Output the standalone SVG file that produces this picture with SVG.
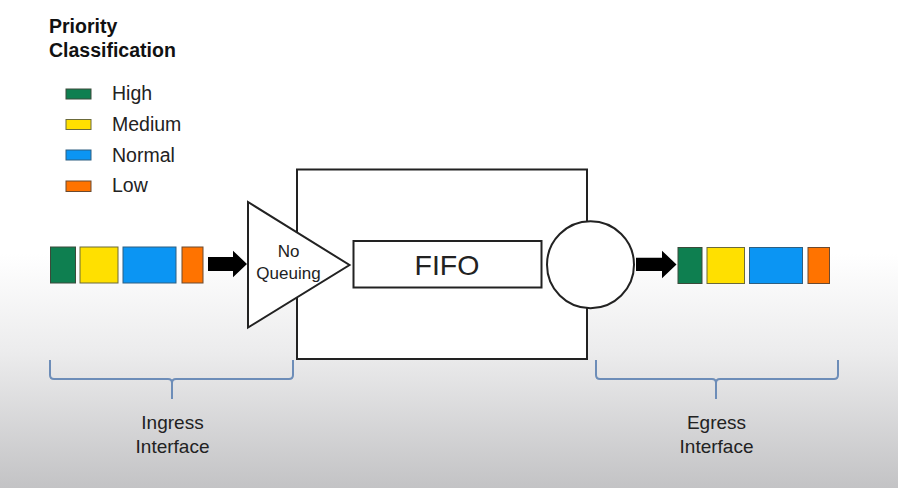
<svg xmlns="http://www.w3.org/2000/svg" width="898" height="488" viewBox="0 0 898 488">
<defs>
<linearGradient id="bg" x1="0" y1="0" x2="0" y2="1">
<stop offset="0" stop-color="#ffffff"/>
<stop offset="0.52" stop-color="#ffffff"/>
<stop offset="0.72" stop-color="#ececed"/>
<stop offset="1" stop-color="#c3c3c5"/>
</linearGradient>
</defs>
<style>
.t{font-family:"Liberation Sans",Arial,sans-serif;fill:#222}
.title{font-size:19.5px;font-weight:bold;fill:#111}
.leg{font-size:19.5px}
.lbl{font-size:19px;text-anchor:middle}
.hi{fill:#0e7f50;stroke:#3b4a3a;stroke-width:1}
.me{fill:#ffe000;stroke:#6b6a3a;stroke-width:1}
.no{fill:#0b95f3;stroke:#2f5f80;stroke-width:1}
.lo{fill:#ff7300;stroke:#6b4a30;stroke-width:1}
.box{fill:#fff;stroke:#222;stroke-width:2}
.brace{fill:none;stroke:#6d8db8;stroke-width:2;stroke-linejoin:round}
.arr{fill:#000}
</style>
<rect width="898" height="488" fill="url(#bg)"/>
<g id="legend">
<text class="t title" x="49" y="33">Priority</text>
<text class="t title" x="49" y="57">Classification</text>
<rect class="hi" x="66" y="89" width="25" height="10"/>
<rect class="me" x="66" y="119.5" width="25" height="10"/>
<rect class="no" x="66" y="150" width="25" height="10"/>
<rect class="lo" x="66" y="181" width="25" height="10.5"/>
<text class="t leg" x="112" y="100">High</text>
<text class="t leg" x="112" y="131">Medium</text>
<text class="t leg" x="112" y="161.5">Normal</text>
<text class="t leg" x="112" y="192">Low</text>
</g>
<g id="ingress-packets">
<rect class="hi" x="50.5" y="247" width="25" height="36"/>
<rect class="me" x="80" y="247" width="38" height="36"/>
<rect class="no" x="123" y="247" width="53" height="36"/>
<rect class="lo" x="182" y="247" width="21" height="36"/>
</g>
<g id="switch">
<rect class="box" x="297" y="169.5" width="290" height="189.5"/>
</g>
<g id="no-queuing">
<polygon class="box" points="248,202 248,327.5 349.5,265" stroke-width="1.5"/>
<text class="t" x="288.5" y="256.5" font-size="17" text-anchor="middle">No</text>
<text class="t" x="288.5" y="278.5" font-size="17" text-anchor="middle">Queuing</text>
</g>
<g id="fifo">
<rect class="box" x="353.5" y="241" width="188" height="46.5" stroke-width="1.5"/>
<text class="t" x="447" y="275" font-size="28.5" text-anchor="middle">FIFO</text>
</g>
<g id="scheduler">
<circle class="box" cx="590.5" cy="264.7" r="43.5" stroke-width="1.5"/>
</g>
<g id="egress-packets">
<rect class="hi" x="678" y="247.5" width="24" height="36"/>
<rect class="me" x="707" y="247.5" width="37.5" height="36"/>
<rect class="no" x="749.5" y="247.5" width="53" height="36"/>
<rect class="lo" x="808" y="247.5" width="21.5" height="36"/>
</g>
<g id="connectors">
<polygon class="arr" points="208,257 233,257 233,250.7 247,264 233,277.3 233,271 208,271"/>
<polygon class="arr" points="636,257.7 662,257.7 662,250.7 676.5,264.5 662,278.3 662,271 636,271"/>
</g>
<g id="ingress-interface">
<path class="brace" d="M50,360 L50,375 Q50,379 54,379 L168,379 Q172,379 172,383 L172,399 M172,383 Q172,379 176,379 L289,379 Q293,379 293,375 L293,360"/>
<text class="t lbl" x="172.5" y="429">Ingress</text>
<text class="t lbl" x="172.5" y="452.5">Interface</text>
</g>
<g id="egress-interface">
<path class="brace" d="M596,360 L596,375 Q596,379 600,379 L712,379 Q716,379 716,383 L716,399 M716,383 Q716,379 720,379 L834,379 Q838,379 838,375 L838,360"/>
<text class="t lbl" x="716.5" y="429">Egress</text>
<text class="t lbl" x="716.5" y="452.5">Interface</text>
</g>
</svg>
